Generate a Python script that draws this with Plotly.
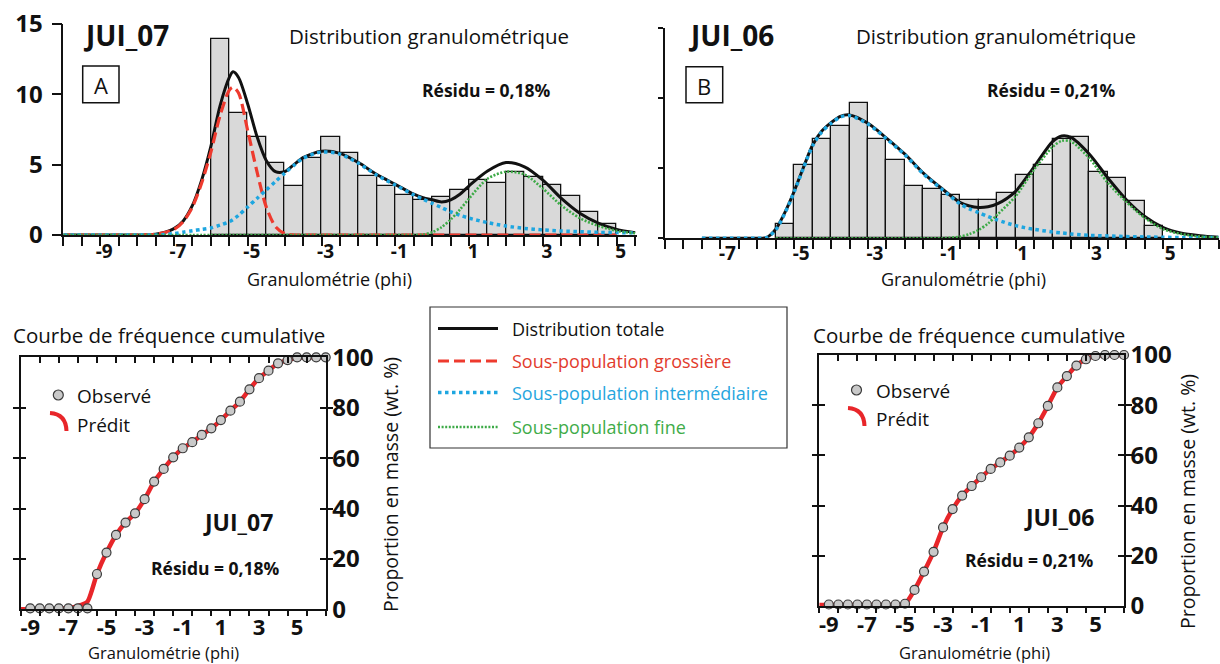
import plotly.graph_objects as go

W, H = 1220, 664
FONT = "Open Sans"

# ---------------- data ----------------
# Grain-size histograms: bin centres (phi, 0.5 phi bins) and mass per bin (%)
bins_a = [-5.75, -5.25, -4.75, -4.25, -3.75, -3.25, -2.75, -2.25, -1.75, -1.25, -0.75,
          -0.25, 0.25, 0.75, 1.25, 1.75, 2.25, 2.75, 3.25, 3.75, 4.25, 4.75]
mass_a = [13.9, 8.7, 7.0, 5.1, 3.45, 5.5, 7.0, 5.8, 4.2, 3.5, 2.85,
          2.5, 2.7, 3.2, 3.9, 3.7, 4.5, 4.15, 3.55, 2.8, 1.6, 0.8]

bins_b = [-5.25, -4.75, -4.25, -3.75, -3.25, -2.75, -2.25, -1.75, -1.25, -0.75,
          -0.25, 0.25, 0.75, 1.25, 1.75, 2.25, 2.75, 3.25, 3.75, 4.25, 4.75]
mass_b = [1.05, 5.2, 7.05, 8.0, 9.66, 7.05, 5.57, 3.7, 3.55, 3.1,
          2.7, 2.7, 3.2, 4.55, 5.2, 7.1, 7.2, 4.7, 4.3, 2.65, 0.85]

# Fitted distributions, JUI_07
phi_a = [-10, -9.5, -9, -8.5, -8, -7.5, -7,
         -6.75, -6.5, -6.25, -6, -5.75, -5.5, -5.4, -5.25, -5, -4.75, -4.5, -4.25, -4, -3.75, -3.5,
         -3, -2.5, -2, -1.5, -1, -0.5,
         -0.25, 0, 0.25, 0.5, 0.75, 1,
         1.5, 2, 2.5, 3, 3.5, 4, 4.5, 5, 5.5]
total_a = [0, 0, 0, 0, 0, 0.05, 0.45,
           1.0, 2.1, 3.9, 6.3, 9.2, 11.2, 11.6, 11.2, 9.3, 7.0, 5.3, 4.5, 4.5, 5.0, 5.5,
           5.95, 5.8, 5.15, 4.3, 3.6, 2.9,
           2.65, 2.5, 2.35, 2.5, 2.9, 3.5,
           4.55, 5.15, 4.85, 3.9, 2.6, 1.55, 0.85, 0.4, 0.17]
coarse_a = [0, 0, 0, 0, 0, 0.05, 0.4,
            0.95, 2.0, 3.7, 5.9, 8.5, 10.3, 10.5, 10.1, 7.4, 4.5, 2.0, 0.6, 0.1, 0, 0,
            0, 0, 0, 0, 0, 0,
            0, 0, 0, 0, 0, 0,
            0, 0, 0, 0, 0, 0, 0, 0]
inter_a = [0, 0, 0, 0, 0, 0, 0.1,
           0.2, 0.3, 0.4, 0.5, 0.7, 0.95, 1.1, 1.4, 2.0, 2.6, 3.2, 3.8, 4.4, 4.95, 5.45,
           5.9, 5.75, 5.1, 4.25, 3.55, 2.85,
           2.55, 2.25, 1.95, 1.65, 1.4, 1.2,
           0.88, 0.64, 0.47, 0.36, 0.28, 0.24, 0.19, 0.17, 0.15]
fine_a = [0, 0, 0, 0, 0, 0, 0,
          0, 0, 0, 0, 0, 0, 0, 0, 0, 0, 0, 0, 0, 0, 0,
          0, 0, 0, 0, 0, 0,
          0.03, 0.2, 0.55, 1.1, 1.8, 2.6,
          4.0, 4.5, 4.3, 3.3, 2.1, 1.2, 0.65, 0.3, 0.12]

# Fitted distributions, JUI_06
phi_b = [-7.5, -7, -6.5, -6,
         -5.75, -5.5, -5.25, -5, -4.75, -4.5, -4.25, -4, -3.75, -3.5,
         -3, -2.5, -2, -1.5, -1, -0.5,
         -0.25, 0, 0.25, 0.5,
         1, 1.5, 2, 2.25, 2.5,
         3, 3.5, 4, 4.5, 5, 5.5, 6, 6.5]
total_b = [0, 0, 0, 0,
           0.05, 0.65, 1.85, 3.35, 5.05, 6.65, 7.65, 8.25, 8.7, 8.8,
           8.2, 7.15, 6.0, 4.65, 3.55, 2.55,
           2.3, 2.2, 2.25, 2.45,
           3.35, 5.1, 6.9, 7.3, 7.2,
           6.0, 4.3, 2.75, 1.55, 0.76, 0.36, 0.19, 0.08]
inter_b = [0, 0, 0, 0,
           0.05, 0.6, 1.8, 3.3, 5.0, 6.6, 7.6, 8.2, 8.65, 8.75,
           8.15, 7.1, 5.95, 4.6, 3.5, 2.45,
           2.1, 1.83, 1.55, 1.31,
           0.9, 0.64, 0.45, 0.38, 0.31,
           0.21, 0.17, 0.12, 0.1, 0.07, 0.06, 0.05, 0.05]
fine_b = [0, 0, 0, 0, 0, 0, 0, 0, 0,
          0, 0, 0, 0, 0,
          0.12, 0.3, 0.6, 1.05, 1.67,
          3.0, 4.9, 6.5, 6.95, 6.9,
          5.7, 3.95, 2.6, 1.45, 0.65, 0.3, 0.12, 0.05]

# Cumulative curves (wt. %)
phi_cum = [-9, -8.5, -8, -7.5, -7, -6.5, -6, -5.5, -5, -4.5, -4, -3.5, -3, -2.5, -2, -1.5,
           -1, -0.5, 0, 0.5, 1, 1.5, 2, 2.5, 3, 3.5, 4, 4.5, 5, 5.5, 6, 6.5]
obs_cum_a = [0.4, 0.4, 0.4, 0.4, 0.4, 0.4, 0.4, 14.0, 22.5, 29.5, 34.4, 38.1, 43.7, 50.7, 55.7, 60.3,
             63.9, 66.3, 69.2, 71.8, 75.1, 78.8, 82.4, 87.3, 91.7, 94.7, 97.6, 98.9, 100, 100, 100, 100]
obs_cum_b = [0.6, 0.6, 0.6, 0.6, 0.6, 0.6, 0.6, 0.6, 0.9, 6.4, 13.7, 21.6, 31.3, 38.6, 44.0, 47.8,
             51.3, 54.6, 57.2, 59.9, 63.1, 67.2, 72.8, 79.7, 87.1, 91.6, 95.8, 98.3, 99.6, 100, 100, 100]

phi_pred = [-9.5, -9, -8.5, -8, -7.5, -7, -6.5, -6, -5.5, -5, -4.5, -4, -3.5, -3, -2.5, -2, -1.5,
            -1, -0.5, 0, 0.5, 1, 1.5, 2, 2.5, 3, 3.5, 4, 4.5, 5, 5.5, 6, 6.5]
pred_cum_a = [0, 0, 0, 0, 0.1, 0.5, 1.3, 3.0, 14.0, 22.5, 29.5, 34.4, 38.1, 43.7, 50.7, 55.7, 60.3,
              63.9, 66.3, 69.2, 71.8, 75.1, 78.8, 82.4, 87.3, 91.7, 94.7, 97.6, 98.9, 99.8, 100, 100, 100]
pred_cum_b = [0.4, 0.4, 0.4, 0.4, 0.4, 0.4, 0.4, 0.4, 0.4, 0.8, 6.4, 13.7, 21.6, 31.3, 38.6, 44.0, 47.8,
              51.3, 54.6, 57.2, 59.9, 63.1, 67.2, 72.8, 79.7, 87.1, 91.6, 95.8, 98.3, 99.6, 100, 100, 100]

odd_ticks = [-9, -7, -5, -3, -1, 1, 3, 5]
odd_labels = ["-9", "-7", "-5", "-3", "-1", "1", "3", "5"]
pct_ticks = [0, 20, 40, 60, 80, 100]
freq_ticks = [0, 5, 10, 15]

# ---------------- styles ----------------
BLACK = "#111111"
RED = "#EE3A2E"
BLUE = "#1EA6E0"
GREEN = "#3DAA47"
PRED = "#E8262A"
BAR = "#D9D9D9"


def px(x):
    return x / W


def py(y):
    return 1 - y / H


fig = go.Figure()


def add_hist(xa, ya, bins, mass):
    fig.add_trace(go.Bar(x=bins, y=mass, width=0.5, xaxis=xa, yaxis=ya,
                         marker=dict(color=BAR, line=dict(color=BLACK, width=1.3)),
                         showlegend=False, hoverinfo="skip"))


def add_curve(xa, ya, x, y, color, width, dash):
    fig.add_trace(go.Scatter(x=x, y=y, xaxis=xa, yaxis=ya, mode="lines",
                             line=dict(color=color, width=width, dash=dash, shape="spline",
                                       smoothing=0.8),
                             showlegend=False, hoverinfo="skip"))


# Panel A: JUI_07
add_hist("x", "y", bins_a, mass_a)
add_curve("x", "y", phi_a, total_a, BLACK, 3, "solid")
add_curve("x", "y", phi_a[:42], coarse_a, RED, 3.2, "11px,5px")
add_curve("x", "y", phi_a, inter_a, BLUE, 3.5, "3.5px,3.5px")
add_curve("x", "y", phi_a, fine_a, GREEN, 2.6, "2px,1.6px")

# Panel B: JUI_06
add_hist("x2", "y2", bins_b, mass_b)
add_curve("x2", "y2", phi_b, total_b, BLACK, 3, "solid")
add_curve("x2", "y2", phi_b, inter_b, BLUE, 3.5, "3.5px,3.5px")
add_curve("x2", "y2", phi_b[5:], fine_b, GREEN, 2.6, "2px,1.6px")

# Cumulative panels
for xa, ya, xtop, pred, obs in (("x3", "y3", "x5", pred_cum_a, obs_cum_a),
                                ("x4", "y4", "x6", pred_cum_b, obs_cum_b)):
    fig.add_trace(go.Scatter(x=phi_pred, y=pred, xaxis=xa, yaxis=ya, mode="lines",
                             line=dict(color=PRED, width=4.5, shape="spline", smoothing=0.6),
                             showlegend=False, hoverinfo="skip"))
    fig.add_trace(go.Scatter(x=phi_cum, y=obs, xaxis=xa, yaxis=ya, mode="markers",
                             marker=dict(size=9, color="#C9C9C9",
                                         line=dict(color="#3A3A3A", width=1.2)),
                             showlegend=False, hoverinfo="skip", cliponaxis=False))
    # empty trace so the top tick axis is drawn
    fig.add_trace(go.Scatter(x=[], y=[], xaxis=xtop, yaxis=ya, showlegend=False))

tick_bold_top = dict(family=FONT, size=19, color=BLACK, weight="bold")
tick_bold_big = dict(family=FONT, size=24, color=BLACK, weight="bold")
tick_bold_bot = dict(family=FONT, size=22, color=BLACK, weight="bold")

base_axis = dict(showgrid=False, zeroline=False, showline=True, linecolor=BLACK,
                 linewidth=1.5, tickcolor=BLACK, tickwidth=1.5, automargin=False)

layout = dict(
    template="none",
    width=W, height=H, margin=dict(l=0, r=0, t=0, b=0, pad=0), autosize=False,
    paper_bgcolor="white", plot_bgcolor="rgba(0,0,0,0)",
    showlegend=False, bargap=0,
    font=dict(family=FONT, color=BLACK),
    # panel A
    xaxis=dict(base_axis, domain=[px(63.3), px(637)], range=[-10, 5.55], anchor="y",
               tickmode="array", tickvals=odd_ticks, ticktext=odd_labels,
               ticks="outside", ticklen=9,
               tickfont=tick_bold_top, ticklabelshift=4, ticklabelstandoff=-11,
               minor=dict(tickmode="linear", tick0=-10, dtick=0.5, ticks="outside",
                          ticklen=9, tickwidth=1.5, tickcolor=BLACK)),
    yaxis=dict(base_axis, domain=[py(235), py(24)], range=[0, 15], anchor="x",
               tickvals=freq_ticks, ticks="outside", ticklen=10,
               tickfont=tick_bold_big, ticklabelstandoff=4),
    # panel B
    xaxis2=dict(base_axis, domain=[px(665), px(1218.6)], range=[-8.5, 6.5], anchor="y2",
                tickmode="array", tickvals=odd_ticks[1:], ticktext=odd_labels[1:],
                ticks="outside", ticklen=9,
                tickfont=tick_bold_top, ticklabelshift=7, ticklabelstandoff=-12,
                minor=dict(tickmode="linear", tick0=-8.5, dtick=0.5, ticks="outside",
                           ticklen=9, tickwidth=1.5, tickcolor=BLACK)),
    yaxis2=dict(base_axis, domain=[py(238.3), py(28)], range=[0, 15], anchor="x2",
                tickvals=freq_ticks, ticks="outside", ticklen=5, showticklabels=False),
)

for n, (x0, x1, ybot, ytop, top_axis) in {3: (20.7, 325.7, 609.3, 357.3, 5),
                                          4: (819.3, 1124, 606, 355, 6)}.items():
    layout[f"xaxis{n}"] = dict(base_axis, domain=[px(x0), px(x1)], range=[-9.5, 6.5],
                               anchor=f"y{n}", mirror=True,
                               tickvals=odd_ticks, ticktext=odd_labels, ticks="",
                               tickfont=tick_bold_bot, ticklabelstandoff=-2,
                               minor=dict(tickmode="linear", tick0=-8.5, dtick=1,
                                          ticks="outside", ticklen=5, tickwidth=1.5,
                                          tickcolor=BLACK))
    layout[f"yaxis{n}"] = dict(base_axis, domain=[py(ybot), py(ytop)], range=[0, 100],
                               anchor=f"x{n}", side="right", mirror="allticks",
                               tickvals=pct_ticks, ticks="inside", ticklen=6,
                               tickfont=tick_bold_big, ticklabelstandoff=0)
    layout[f"xaxis{top_axis}"] = dict(showgrid=False, zeroline=False, showline=False,
                                      automargin=False,
                                      overlaying=f"x{n}", anchor=f"y{n}", side="top",
                                      range=[-9.5, 6.5], tickmode="linear", tick0=-8.5,
                                      dtick=1, ticks="inside", ticklen=6, tickwidth=1.5,
                                      tickcolor=BLACK, showticklabels=False)

fig.update_layout(**layout)


def text(x, y, s, size, color=BLACK, xanchor="center", yanchor="middle", angle=0, bold=False):
    fig.add_annotation(x=px(x), y=py(y), xref="paper", yref="paper", text=s,
                       showarrow=False, xanchor=xanchor, yanchor=yanchor, textangle=angle,
                       font=dict(family=FONT, size=size, color=color,
                                 weight="bold" if bold else "normal"))


# headers of the distribution panels
text(81, 35, "JUI_07", 28, xanchor="left", bold=True)
text(686, 35, "JUI_06", 28, xanchor="left", bold=True)
text(287, 36, "Distribution granulométrique", 20.5, xanchor="left")
text(854, 36, "Distribution granulométrique", 20.5, xanchor="left")
text(486, 90, "Résidu = 0,18%", 17.5, bold=True)
text(1051, 90, "Résidu = 0,21%", 17.5, bold=True)
for (bx0, bx1, by0, by1, letter) in ((82.7, 119, 66, 102.7, "A"), (686, 722.7, 66.7, 102.7, "B")):
    fig.add_shape(type="rect", xref="paper", yref="paper", x0=px(bx0), x1=px(bx1),
                  y0=py(by1), y1=py(by0), line=dict(color=BLACK, width=1.5))
    text((bx0 + bx1) / 2, (by0 + by1) / 2 + 1, letter, 22)
text(329, 279, "Granulométrie (phi)", 18)
text(964, 279, "Granulométrie (phi)", 18)

# cumulative panels
text(11, 335, "Courbe de fréquence cumulative", 20.5, xanchor="left")
text(811, 335, "Courbe de fréquence cumulative", 20.5, xanchor="left")
text(238, 522, "JUI_07", 23, bold=True)
text(215, 568, "Résidu = 0,18%", 17.5, bold=True)
text(1059, 517, "JUI_06", 23, bold=True)
text(1029, 560, "Résidu = 0,21%", 17.5, bold=True)
text(163, 652.5, "Granulométrie (phi)", 16.5)
text(974, 652, "Granulométrie (phi)", 16.5)
text(390, 485, "Proportion en masse (wt. %)", 19.5, angle=-90)
text(1187, 502, "Proportion en masse (wt. %)", 19.5, angle=-90)

# in-panel keys: observed (circle) and predicted (arc)
for (cx, cy, ty_obs, ty_pred, ax0, ay0) in ((58.3, 395, 396, 425, 50, 413),
                                           (856.5, 390, 391, 419, 848, 408)):
    fig.add_shape(type="circle", xref="paper", yref="paper",
                  x0=px(cx - 5), x1=px(cx + 5), y0=py(cy + 5), y1=py(cy - 5),
                  fillcolor="#C9C9C9", line=dict(color="#3A3A3A", width=1.2))
    path = (f"M {px(ax0)},{py(ay0)} Q {px(ax0 + 16)},{py(ay0 + 1)} "
            f"{px(ax0 + 16.5)},{py(ay0 + 18)}")
    fig.add_shape(type="path", xref="paper", yref="paper", path=path,
                  line=dict(color=PRED, width=4))
    text(cx + 17, ty_obs, "Observé", 19, xanchor="left")
    text(cx + 17, ty_pred, "Prédit", 19, xanchor="left")

# shared key of the fitted curves
fig.add_shape(type="rect", xref="paper", yref="paper", x0=px(430), x1=px(787),
              y0=py(448), y1=py(307), line=dict(color="#333333", width=1.2))
key_rows = [("Distribution totale", BLACK, BLACK, "solid", 3, 328.5),
            ("Sous-population grossière", RED, "#E23B2D", "11px,5px", 3.2, 361),
            ("Sous-population intermédiaire", BLUE, "#27A6DE", "3.5px,3.5px", 3.5, 392.5),
            ("Sous-population fine", GREEN, "#3FAC49", "2px,1.6px", 2.6, 427)]
for label, lc, tc, dash, lw, yy in key_rows:
    fig.add_shape(type="line", xref="paper", yref="paper", x0=px(438), x1=px(498),
                  y0=py(yy), y1=py(yy), line=dict(color=lc, width=lw, dash=dash))
    text(510, yy, label, 18, color=tc, xanchor="left")

fig.write_html("out.html")
